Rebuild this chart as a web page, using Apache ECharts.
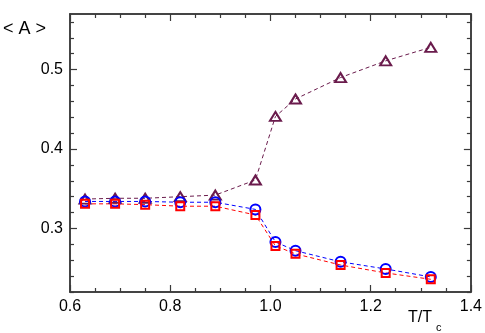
<!DOCTYPE html>
<html>
<head>
<meta charset="utf-8">
<script src="https://cdn.jsdelivr.net/npm/echarts@6/dist/echarts.min.js"></script>
<style>
  html, body { margin: 0; padding: 0; background: #fff; }
  #chart { width: 485px; height: 333px; }
</style>
</head>
<body>
<div id="chart"></div>
<script>
  // T/Tc values
  const temps = [0.63, 0.69, 0.75, 0.82, 0.89, 0.97, 1.01, 1.05, 1.14, 1.23, 1.32];
  const triangleVals = [0.337, 0.338, 0.338, 0.340, 0.342, 0.361, 0.441, 0.463, 0.490, 0.511, 0.528];
  const circleVals = [0.334, 0.334, 0.334, 0.333, 0.333, 0.324, 0.283, 0.272, 0.258, 0.249, 0.239];
  const squareVals = [0.331, 0.331, 0.330, 0.328, 0.328, 0.317, 0.278, 0.268, 0.254, 0.244, 0.236];

  const xMajorTicks = [0.6, 0.8, 1.0, 1.2, 1.4];
  const xMinorTicks = [0.65, 0.7, 0.75, 0.85, 0.9, 0.95, 1.05, 1.1, 1.15, 1.25, 1.3, 1.35];
  const yMajorTicks = [0.3, 0.4, 0.5];
  const yMinorTicks = [0.22, 0.24, 0.26, 0.28, 0.32, 0.34, 0.36, 0.38, 0.42, 0.44, 0.46, 0.48, 0.52, 0.54, 0.56];

  const FONT = '"Liberation Sans", Arial, sans-serif';
  const FRAME = '#3a3a3a';
  const X_MIN = 0.6, X_MAX = 1.4, Y_MIN = 0.22, Y_MAX = 0.57;

  function axis(kind, position, ticks, len, withLabels) {
    const isX = kind === 'x';
    return {
      type: 'value',
      position: position,
      min: isX ? X_MIN : Y_MIN,
      max: isX ? X_MAX : Y_MAX,
      splitLine: {show: false},
      axisLine: {show: true, onZero: false, lineStyle: {color: FRAME, width: 1.5}},
      axisTick: {show: true, inside: true, length: len, customValues: ticks,
        lineStyle: {color: FRAME, width: 1.2}},
      axisLabel: {
        show: withLabels,
        customValues: withLabels ? ticks : undefined,
        margin: 7,
        color: '#000',
        fontSize: 16,
        fontFamily: FONT,
        formatter: (v) => v.toFixed(1),
      },
    };
  }

  function series(name, data, symbol, size, color) {
    return {
      name: name,
      type: 'line',
      xAxisIndex: 0,
      yAxisIndex: 0,
      data: temps.map((t, i) => [t, data[i]]),
      symbol: symbol,
      symbolSize: size,
      showAllSymbol: true,
      lineStyle: {color: color, width: 1, type: [4, 3]},
      itemStyle: {color: 'rgba(0,0,0,0)', borderColor: color, borderWidth: 2},
      emphasis: {disabled: true},
      z: 3,
    };
  }

  const chart = echarts.init(document.getElementById('chart'));
  chart.setOption({
    animation: false,
    grid: {left: 70, right: 13.5, top: 14, bottom: 41},
    xAxis: [
      axis('x', 'bottom', xMajorTicks, 7, true),
      axis('x', 'bottom', xMinorTicks, 4, false),
      axis('x', 'top', xMajorTicks, 7, false),
      axis('x', 'top', xMinorTicks, 4, false),
    ],
    yAxis: [
      axis('y', 'left', yMajorTicks, 7, true),
      axis('y', 'left', yMinorTicks, 4, false),
      axis('y', 'right', yMajorTicks, 7, false),
      axis('y', 'right', yMinorTicks, 4, false),
    ],
    series: [
      series('triangle', triangleVals, 'triangle', [11, 9], '#6a1b4c'),
      series('circle', circleVals, 'circle', 10, '#0000ff'),
      series('square', squareVals, 'rect', 8, '#ff0000'),
    ],
    graphic: [
      {type: 'text', left: 3, top: 20,
        style: {text: '< A >', fontSize: 18, fontFamily: FONT, fill: '#000'}},
      {type: 'text', left: 408, top: 310,
        style: {text: 'T/T', fontSize: 16, fontFamily: FONT, fill: '#000'}},
      {type: 'text', left: 436, top: 322,
        style: {text: 'c', fontSize: 11, fontFamily: FONT, fill: '#000'}},
    ],
  });
</script>
</body>
</html>
